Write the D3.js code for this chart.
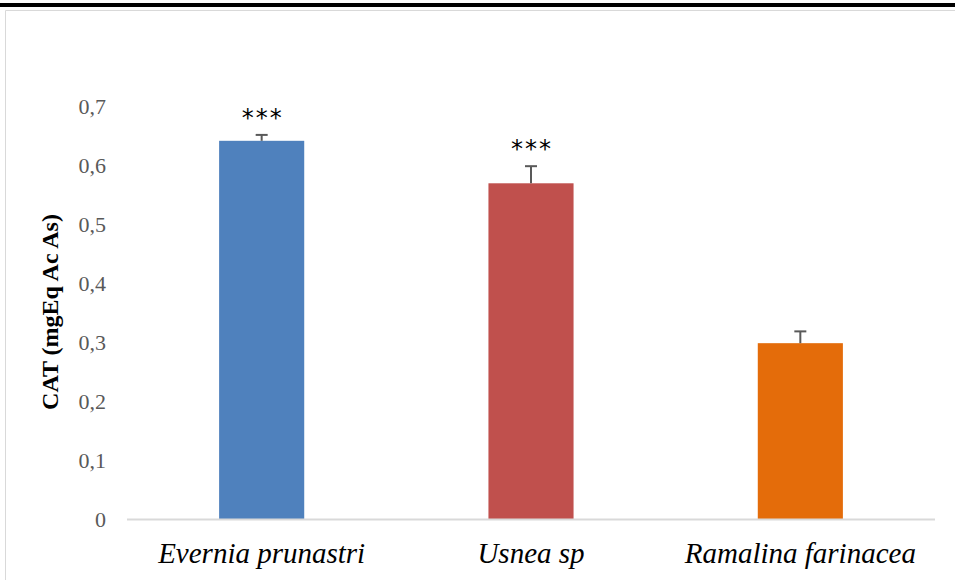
<!DOCTYPE html>
<html>
<head>
<meta charset="utf-8">
<script src="https://cdn.jsdelivr.net/npm/d3@7"></script>
<style>
  body { margin: 0; background: #fff; }
  svg { display: block; }
</style>
</head>
<body>
<div id="chart"></div>
<script>
// data
var species = ["Evernia prunastri", "Usnea sp", "Ramalina farinacea"];
var catValues = [0.641, 0.569, 0.298];
var catErrors = [0.010, 0.029, 0.020];
var signif = ["***", "***", ""];
var barColors = ["#4F81BD", "#C0504D", "#E46C0A"];
var yTicks = [0, 0.1, 0.2, 0.3, 0.4, 0.5, 0.6, 0.7];

var W = 955, H = 580;
var margin = { top: 106, right: 20, bottom: 61, left: 127 },
    width = 935 - margin.left,
    height = 519 - margin.top;

var svg = d3.select("#chart")
    .append("svg")
    .attr("width", W)
    .attr("height", H);

// thick black rule across the top
svg.append("rect")
    .attr("x", 0).attr("y", 3)
    .attr("width", W).attr("height", 4)
    .attr("fill", "#000");

// chart frame (only top and left edges show)
svg.append("path")
    .attr("d", "M5.5," + H + "V10.5H" + W)
    .attr("fill", "none")
    .attr("stroke", "#d9d9d9")
    .attr("stroke-width", 1);

var g = svg.append("g")
    .attr("transform", "translate(" + margin.left + "," + margin.top + ")");

var x = d3.scaleBand()
    .domain(species)
    .range([0, width])
    .paddingInner(0.684)
    .paddingOuter(0.342);

var y = d3.scaleLinear()
    .domain([0, 0.7])
    .range([height, 0]);

// Y axis labels
var fmt = function (d) { return d3.format(".1f")(d).replace(".", ",").replace(/^0,0$/, "0"); };
var yAxis = g.append("g")
    .call(d3.axisLeft(y).tickValues(yTicks).tickSize(0).tickPadding(21).tickFormat(fmt));
yAxis.select(".domain").remove();
yAxis.selectAll("text")
    .attr("font-family", "'Liberation Serif', 'Times New Roman', serif")
    .attr("font-size", 22)
    .attr("fill", "#595959");

// bars
g.selectAll("rect.bar")
    .data(species)
    .enter()
    .append("rect")
    .attr("class", "bar")
    .attr("x", function (d) { return x(d); })
    .attr("y", function (d, i) { return y(catValues[i]); })
    .attr("width", x.bandwidth())
    .attr("height", function (d, i) { return height - y(catValues[i]); })
    .attr("fill", function (d, i) { return barColors[i]; });

// error bars (upper half only)
var err = g.selectAll("g.err")
    .data(species)
    .enter()
    .append("g")
    .attr("class", "err");
err.append("line")
    .attr("x1", function (d) { return x(d) + x.bandwidth() / 2; })
    .attr("x2", function (d) { return x(d) + x.bandwidth() / 2; })
    .attr("y1", function (d, i) { return y(catValues[i]); })
    .attr("y2", function (d, i) { return y(catValues[i] + catErrors[i]); })
    .attr("stroke", "#595959")
    .attr("stroke-width", 2);
err.append("line")
    .attr("x1", function (d) { return x(d) + x.bandwidth() / 2 - 6; })
    .attr("x2", function (d) { return x(d) + x.bandwidth() / 2 + 6; })
    .attr("y1", function (d, i) { return y(catValues[i] + catErrors[i]); })
    .attr("y2", function (d, i) { return y(catValues[i] + catErrors[i]); })
    .attr("stroke", "#595959")
    .attr("stroke-width", 2);

// significance stars
g.selectAll("text.sig")
    .data(species)
    .enter()
    .append("text")
    .attr("class", "sig")
    .attr("x", function (d) { return x(d) + x.bandwidth() / 2 + 1; })
    .attr("y", function (d, i) { return y(catValues[i] + catErrors[i]) - 9; })
    .attr("text-anchor", "middle")
    .attr("font-family", "'DejaVu Sans', sans-serif")
    .attr("font-size", 24)
    .attr("letter-spacing", 2)
    .attr("fill", "#000")
    .text(function (d, i) { return signif[i]; });

// baseline
g.append("line")
    .attr("x1", 0).attr("x2", width)
    .attr("y1", height + 0.5).attr("y2", height + 0.5)
    .attr("stroke", "#d9d9d9")
    .attr("stroke-width", 2);

// X axis labels
g.selectAll("text.xlab")
    .data(species)
    .enter()
    .append("text")
    .attr("class", "xlab")
    .attr("x", function (d) { return x(d) + x.bandwidth() / 2; })
    .attr("y", height + 44)
    .attr("text-anchor", "middle")
    .attr("font-family", "'Liberation Serif', 'Times New Roman', serif")
    .attr("font-style", "italic")
    .attr("font-size", 29)
    .attr("fill", "#000")
    .text(function (d) { return d; });

// Y axis title
svg.append("text")
    .attr("transform", "translate(58,312) rotate(-90)")
    .attr("text-anchor", "middle")
    .attr("font-family", "'Liberation Serif', 'Times New Roman', serif")
    .attr("font-weight", "bold")
    .attr("font-size", 24)
    .attr("fill", "#000")
    .text("CAT (mgEq Ac As)");
</script>
</body>
</html>
